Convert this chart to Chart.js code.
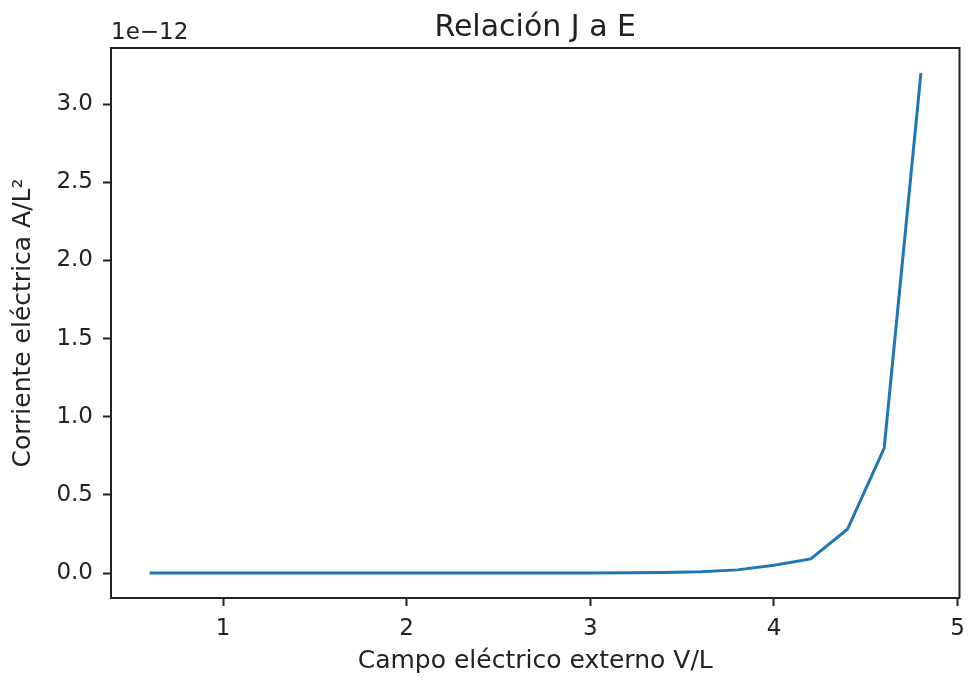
<!DOCTYPE html>
<html>
<head>
<meta charset="utf-8">
<script src="https://cdn.jsdelivr.net/npm/chart.js@4"></script>
<style>
  html, body { margin: 0; padding: 0; background: #fff; }
  #wrap { width: 974px; height: 683px; }
</style>
</head>
<body>
<div id="wrap"><canvas id="chart" width="974" height="683"></canvas></div>
<script>
// DATA (corriente en unidades de 1e-12)
const campo = [0.6, 0.8, 1.0, 1.2, 1.4, 1.6, 1.8, 2.0, 2.2, 2.4, 2.6, 2.8, 3.0, 3.2, 3.4, 3.6, 3.8, 4.0, 4.2, 4.4, 4.6, 4.8];
const corriente = [0, 0, 0, 0, 0, 0, 0, 0, 0, 0, 0, 0, 0.0005, 0.001, 0.003, 0.008, 0.02, 0.05, 0.09, 0.28, 0.8, 3.2];
const xTicks = [1, 2, 3, 4, 5];
const yTicks = [0.0, 0.5, 1.0, 1.5, 2.0, 2.5, 3.0];
const offsetText = "1e\u221212";

const ink = "#222";
const font = "'DejaVu Sans', sans-serif";

// top/right spines + the 1e-12 multiplier
const framePlugin = {
  id: "frame",
  afterDraw(chart) {
    const { ctx, chartArea } = chart;
    ctx.save();
    ctx.strokeStyle = ink;
    ctx.lineWidth = 2;
    ctx.beginPath();
    ctx.moveTo(chartArea.left, chartArea.top);
    ctx.lineTo(chartArea.right, chartArea.top);
    ctx.lineTo(chartArea.right, chartArea.bottom);
    ctx.stroke();
    ctx.fillStyle = ink;
    ctx.font = "23px " + font;
    ctx.textAlign = "left";
    ctx.textBaseline = "alphabetic";
    ctx.fillText(offsetText, chartArea.left, 39);
    ctx.restore();
  },
};

const chartEl = document.getElementById("chart");

new Chart(chartEl, {
  type: "line",
  data: {
    datasets: [
      {
        data: campo.map((x, i) => ({ x: x, y: corriente[i] })),
        borderColor: "#1f77b4",
        borderWidth: 3,
        pointRadius: 0,
        tension: 0,
        fill: false,
      },
    ],
  },
  options: {
    responsive: false,
    animation: false,
    layout: { padding: { left: 0, right: 14, top: 0, bottom: 0 } },
    plugins: {
      legend: { display: false },
      tooltip: { enabled: false },
      title: {
        display: true,
        fullSize: false,
        text: "Relación J a E",
        color: ink,
        font: { family: font, size: 30, weight: "normal" },
        padding: { top: 10, bottom: 2 },
      },
    },
    scales: {
      x: {
        type: "linear",
        min: 0.39,
        max: 5.01,
        afterFit: (s) => { s.height = 85; },
        afterBuildTicks: (s) => { s.ticks = xTicks.map((v) => ({ value: v })); },
        ticks: {
          color: ink,
          font: { family: font, size: 23 },
          padding: 9,
          maxRotation: 0,
          callback: (v) => String(v),
        },
        grid: { drawOnChartArea: false, drawTicks: true, tickLength: 8, tickWidth: 2, tickColor: ink },
        border: { display: true, color: ink, width: 2 },
        title: {
          display: true,
          text: "Campo eléctrico externo V/L",
          color: ink,
          font: { family: font, size: 25 },
          padding: { top: 0, bottom: 7 },
        },
      },
      y: {
        type: "linear",
        min: -0.16,
        max: 3.36,
        afterFit: (s) => { s.width = 111; },
        afterBuildTicks: (s) => { s.ticks = yTicks.map((v) => ({ value: v })); },
        ticks: {
          color: ink,
          font: { family: font, size: 23 },
          padding: 10,
          callback: (v) => Number(v).toFixed(1),
        },
        grid: { drawOnChartArea: false, drawTicks: true, tickLength: 8, tickWidth: 2, tickColor: ink },
        border: { display: true, color: ink, width: 2 },
        title: {
          display: true,
          text: "Corriente eléctrica A/L²",
          color: ink,
          font: { family: font, size: 25 },
          padding: { top: 8, bottom: 0 },
        },
      },
    },
  },
  plugins: [framePlugin],
});
</script>
</body>
</html>
